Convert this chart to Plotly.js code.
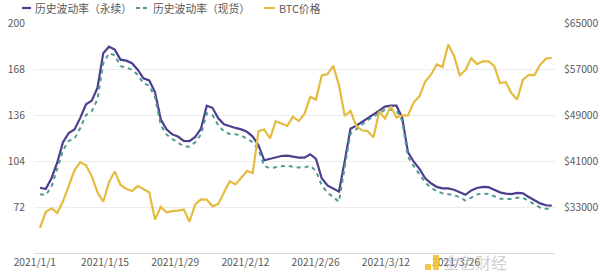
<!DOCTYPE html>
<html>
<head>
<meta charset="utf-8">
<script src="https://cdn.plot.ly/plotly-3.0.1.min.js"></script>
<style>html,body{margin:0;padding:0;background:#fff;}#chart{width:600px;height:273px;}</style>
</head>
<body>
<div id="chart"></div>
<script>
// Daily points, 2021/1/1 .. 2021/3/31
const startDate = new Date(Date.UTC(2021, 0, 1));
const dates = Array.from({length: 90}, (_, i) => {
  const d = new Date(startDate.getTime() + i * 86400000);
  return d.getUTCFullYear() + '/' + (d.getUTCMonth() + 1) + '/' + d.getUTCDate();
});

const seriesNames = ['历史波动率（永续）', '历史波动率（现货）', 'BTC价格'];

const volPerp = [85.4,84.5,92,103,117,123.5,126,134,143.5,146,155,179,183.5,181.5,174.5,173.8,172,167.5,161.5,160,
  152,133,126,122.5,121,118,117.8,120.8,126.5,142.5,141,133.7,129.5,128,127,126,124.3,121,115,104.5,
  105.4,106.8,107.5,107.7,107,106.3,106.3,108.7,105.5,92,87,85,82.7,104,126.5,128.5,131,133.8,136,139,
  141.8,142.5,142.5,134,110,103.5,98.5,92,88.5,86,85,85,84,82.5,80.5,83.5,85.2,86,85.8,84,
  82.2,81.3,81,81.8,81.5,79,76.5,74.5,73.2,73];

const volSpot = [80.8,80.3,86,99,111.5,118,119.5,127,136,138.5,147,172,179,177.5,170,169,167.5,164,158,156.5,
  148.5,129,122.5,119.3,117,114.2,114,117,122.5,137.2,136,129,124.5,122.8,122.6,121.8,119.5,117,112,100.5,
  99,99.8,100.3,100.6,100,99.5,99.5,100.7,97,87,82,79,75.7,100,123,126,129.5,132.5,135,137.5,
  139.5,139.7,139,132,107,100.5,95,89,85.5,83,81.5,80.8,80.3,78.8,76.5,78.5,80.8,81.3,81,79.5,
  77.8,77.6,77.6,78.5,78.3,76.3,74,71.5,70.8,70.6];

const btcPrice = [29374,32127,32782,31971,33992,36824,39371,40797,40254,38356,35566,33922,37316,39187,36825,36178,35792,36630,36069,35548,
  30825,33005,32068,32289,32366,32569,30432,33467,34316,34269,33114,33538,35510,37473,36926,38144,39266,38903,46196,46481,
  44919,47909,47504,47105,48717,47945,49199,52149,51679,55888,56099,57539,54207,48824,49705,47093,46339,46188,45137,49631,
  48378,50538,48561,48927,48912,51206,52246,54824,56008,57805,57332,61243,59302,55907,56804,58870,57858,58346,58313,57523,
  54529,54738,52775,51704,55137,55974,55947,57750,58800,58918];

const xTickLabels = ['2021/1/1','2021/1/15','2021/1/29','2021/2/12','2021/2/26','2021/3/12','2021/3/26'];
const leftTicks = [72, 104, 136, 168, 200];
const rightTicks = [33000, 41000, 49000, 57000, 65000];

const idx = dates.map((_, i) => i);
const FONT = '"Noto Sans CJK SC", "Noto Sans", sans-serif';
const cPerp = '#4b3f8e', cSpot = '#4f9a94', cBtc = '#e3bc3f';
const TICKFONT = {family: FONT, size: 10.3, color: '#595959'};

const traces = [
  {x: idx, y: volPerp, text: dates, name: seriesNames[0], type: 'scatter', mode: 'lines',
   line: {color: cPerp, width: 2.2}, hovertemplate: '%{text}: %{y}<extra></extra>'},
  {x: idx, y: volSpot, text: dates, name: seriesNames[1], type: 'scatter', mode: 'lines',
   line: {color: cSpot, width: 2, dash: '4px,4px'}, hovertemplate: '%{text}: %{y}<extra></extra>'},
  {x: idx, y: btcPrice, text: dates, name: seriesNames[2], type: 'scatter', mode: 'lines', yaxis: 'y2',
   line: {color: cBtc, width: 2.2}, hovertemplate: '%{text}: $%{y}<extra></extra>'}
];

// plot area geometry (px)
const L = 34, R = 555, T = 23, B = 253;
const PW = R - L, PH = B - T;
const px = v => (v - L) / PW;
const py = v => (B - v) / PH;

const tickPos = xTickLabels.map((_, k) => -0.9 + k * 12.21);

const legendItems = [
  {x0: 22, x1: 31, tx: 33, color: cPerp, dash: 'solid'},
  {x0: 136, x1: 148, tx: 151, color: cSpot, dash: '4px,3px'},
  {x0: 264, x1: 275, tx: 277, color: cBtc, dash: 'solid'}
];

const shapes = legendItems.map(it => ({
  type: 'line', xref: 'paper', yref: 'paper',
  x0: px(it.x0), x1: px(it.x1), y0: py(8), y1: py(8),
  line: {color: it.color, width: 2.2, dash: it.dash}
}));
// watermark logo blocks
shapes.push({type: 'rect', xref: 'paper', yref: 'paper', layer: 'above',
  x0: px(425), x1: px(431), y0: py(270), y1: py(264),
  fillcolor: 'rgba(242,194,48,0.9)', line: {width: 0}});
shapes.push({type: 'rect', xref: 'paper', yref: 'paper', layer: 'above',
  x0: px(433), x1: px(439), y0: py(270), y1: py(255),
  fillcolor: 'rgba(242,194,48,0.9)', line: {width: 0}});

const annotations = legendItems.map((it, k) => ({
  xref: 'paper', yref: 'paper', x: px(it.tx), y: py(8),
  xanchor: 'left', yanchor: 'middle', showarrow: false, text: seriesNames[k],
  font: {family: FONT, size: 10.8, color: '#595959'}
}));
annotations.push({xref: 'paper', yref: 'paper', x: px(442), y: py(262),
  xanchor: 'left', yanchor: 'middle', showarrow: false, text: '金色财经', borderpad: 0,
  font: {family: FONT, size: 16, color: 'rgba(175,175,175,0.6)'}});

const layout = {
  width: 600, height: 273,
  margin: {l: L, r: 600 - R, t: T, b: 273 - B, pad: 0},
  paper_bgcolor: '#fff', plot_bgcolor: '#fff',
  showlegend: false,
  font: {family: FONT, size: 11, color: '#595959'},
  xaxis: {
    range: [-(40 - L) / 5.75, 89.57], showgrid: false, zeroline: false,
    showline: true, linecolor: '#d9d9d9', linewidth: 1,
    tickmode: 'array', tickvals: tickPos, ticktext: xTickLabels,
    ticks: '', tickfont: TICKFONT
  },
  yaxis: {
    range: [40, 200], tickmode: 'array', tickvals: leftTicks,
    showgrid: true, gridcolor: '#ececec', gridwidth: 1, zeroline: false,
    ticks: '', ticklabelstandoff: 8, tickfont: TICKFONT
  },
  yaxis2: {
    range: [25000, 65000], overlaying: 'y', side: 'right',
    tickmode: 'array', tickvals: rightTicks, ticktext: rightTicks.map(v => '$' + v),
    showgrid: false, zeroline: false, ticks: '', ticklabelstandoff: 8,
    tickfont: TICKFONT
  },
  shapes: shapes,
  annotations: annotations
};

Plotly.newPlot('chart', traces, layout, {displayModeBar: false, staticPlot: true});
</script>
</body>
</html>
